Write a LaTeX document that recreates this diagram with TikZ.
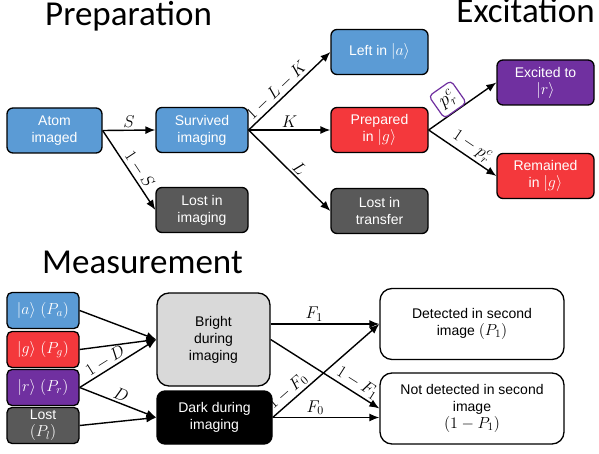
\documentclass[tikz,border=0pt]{standalone}
\usepackage{fix-cm}
\usepackage{fontspec}
\setmainfont{Liberation Sans}
\newfontfamily\titlefont{Carlito}
\usetikzlibrary{arrows.meta,positioning,calc}
\definecolor{officeblue}{HTML}{5B9BD5}
\definecolor{officered}{HTML}{F4383C}
\definecolor{officepurple}{HTML}{7030A0}
\definecolor{officegray}{HTML}{595959}
\definecolor{lightgrey}{HTML}{D9D9D9}
\newcommand{\mth}[1]{{\fontsize{16}{16}\selectfont$#1$}}
\tikzset{
  stage/.style    = {shape=rectangle, rounded corners=6pt,
                     draw, line width=1.3pt, align=center,
                     text=white, inner sep=1pt,
                     font=\fontsize{14}{17}\selectfont,
                     minimum width=95pt, minimum height=45pt},
  astate/.style   = {stage, fill=officeblue},
  gstate/.style   = {stage, fill=officered},
  rstate/.style   = {stage, fill=officepurple},
  lost/.style     = {stage, fill=officegray},
  meas/.style     = {minimum width=72pt, minimum height=36pt,
                     rounded corners=5pt},
  outcome/.style  = {stage, text=black, fill=white, rounded corners=12pt,
                     minimum width=184pt, minimum height=71pt},
  heading/.style  = {font=\titlefont\fontsize{35}{40}\selectfont,
                     anchor=base west, inner sep=0pt},
  prob/.style     = {font=\fontsize{17}{19}\selectfont, inner sep=2pt},
  pbox/.style     = {prob, font=\fontsize{19}{21}\selectfont,
                     draw=officepurple, line width=1.2pt, fill=white,
                     rounded corners=4pt, inner sep=3pt, minimum size=27pt}
}

\begin{document}
\begin{tikzpicture}
  [x=1pt, y=-1pt, >={Latex[length=10pt,width=8pt]},
   every edge/.style={draw, ->, line width=1.4pt}]
  \useasboundingbox (0,0) rectangle (599,454);

  % preparation
  \node [heading] (prephead) at (45,26) {Preparation};
  \node [astate] (atom) at (54.5,130.5) {Atom\\imaged};
  \node [astate, minimum width=92pt] (surv) at (202,130) {Survived\\imaging};
  \node [lost, minimum width=92pt] (lostimg) at (202,210) {Lost in\\imaging};
  \node [astate, minimum width=97pt] (left) at (379.5,52) {Left in \mth{|a\rangle}};
  \node [gstate, minimum width=97pt] (prep) at (379.5,130) {Prepared\\in \mth{|g\rangle}};
  \node [lost, minimum width=97pt] (losttr) at (379.5,211) {Lost in\\transfer};

  \path (atom.east) edge node [prob, above] {$S$} (surv.west)
        (atom.east) edge node [prob, above, sloped, pos=0.55] {$1-S$} (lostimg.west)
        (surv.east) edge node [prob, above, sloped, pos=0.42] {$1-L-K$} (left.west)
        (surv.east) edge node [prob, above] {$K$} (prep.west)
        (surv.east) edge node [prob, above, sloped, pos=0.55] {$L$} (losttr.west);

  % excitation
  \node [heading, anchor=base east] (exchead) at (595,23) {Excitation};
  \node [rstate, minimum width=97pt] (exc) at (545.5,82.5) {Excited to\\\mth{|r\rangle}};
  \node [gstate, minimum width=97pt] (rem) at (545.5,176) {Remained\\in \mth{|g\rangle}};

  \path (prep.east) edge node [pbox, above, sloped, pos=0.4] {$p_r^c$} (exc.west)
        (prep.east) edge node [prob, above, sloped, pos=0.55] {$1-p_r^c$} (rem.west);

  % measurement
  \node [heading] (meashead) at (42,273) {Measurement};
  \node [astate, meas] (ma) at (43,310.5) {\mth{|a\rangle\ (P_a)}};
  \node [gstate, meas] (mg) at (43,349.5) {\mth{|g\rangle\ (P_g)}};
  \node [rstate, meas] (mr) at (43,387.5) {\mth{|r\rangle\ (P_r)}};
  \node [lost, meas] (ml) at (43,425.5) {Lost\\\mth{(P_l)}};
  \node [stage, text=black, fill=lightgrey, rounded corners=12pt,
         minimum width=113pt, minimum height=93pt] (bright) at (213.5,339.5)
        {Bright\\during\\imaging};
  \node [stage, fill=black, rounded corners=8pt,
         minimum width=115pt, minimum height=53pt] (dark) at (214.5,417.5)
        {Dark during\\imaging};
  \node [outcome] (det) at (472,324) {Detected in second\\image \mth{(P_1)}};
  \node [outcome] (nodet) at (472,408.5)
        {Not detected in second\\image\\\mth{(1-P_1)}};

  \path (ma.east) edge (bright.west)
        (mg.east) edge (bright.west)
        (mr.east) edge node [prob, above, sloped, pos=0.4] {$1-D$} (bright.west)
        (mr.east) edge node [prob, above, sloped, pos=0.5] {$D$} (dark.west)
        (ml.east) edge (dark.west);

  \path (bright.east |- det.west) edge node [prob, above, pos=0.4] {$F_1$} (det.west)
        (bright.east) edge node [prob, above, sloped, pos=0.75] {$1-F_1$} (nodet.west)
        (dark.east) edge node [prob, above, sloped, pos=0.2] {$1-F_0$} (det.west)
        (dark.east) edge node [prob, above, pos=0.4] {$F_0$} (nodet.west |- dark.east);
\end{tikzpicture}
\end{document}
